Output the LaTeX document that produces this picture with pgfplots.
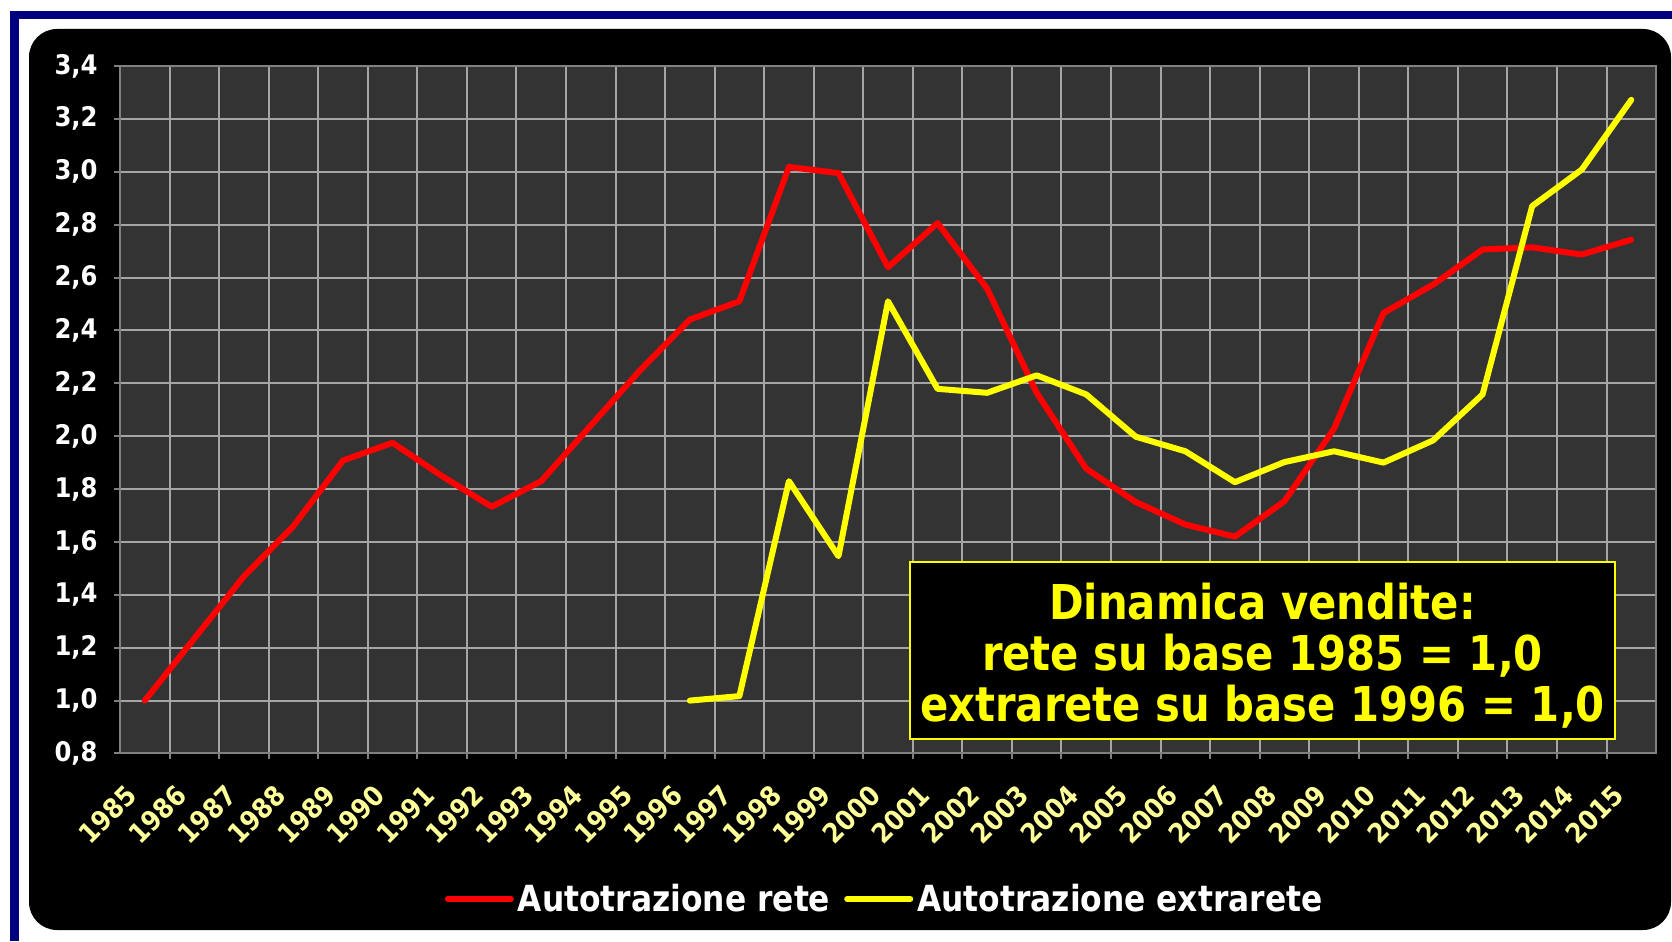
\documentclass[border=0pt]{standalone}
\usepackage{fontspec}
\usepackage{pgfplots}
\pgfplotsset{compat=1.18}
\setmainfont{DejaVu Sans}
\newfontfamily\tickfont{DejaVu Sans}[FakeStretch=0.9]
\newfontfamily\boxfont{DejaVu Sans}[FakeStretch=0.87]
\definecolor{navyb}{RGB}{0,0,128}
\definecolor{plotbg}{RGB}{51,51,51}
\definecolor{gridc}{RGB}{165,165,165}
\definecolor{axisc}{RGB}{128,128,128}
\definecolor{lblyel}{RGB}{255,255,153}
\definecolor{redl}{RGB}{255,0,0}
\definecolor{yell}{RGB}{255,255,0}
\begin{document}
\begin{tikzpicture}
\begin{scope}[x=0.5bp,y=0.5bp]
\fill[white] (0,0) rectangle (1672,941);
\path[use as bounding box] (0,0) rectangle (1672,941);
\fill[navyb] (10,922) rectangle (1672,930);
\fill[navyb] (10,0) rectangle (19,930);
\fill[black, rounded corners=14bp] (29,11) rectangle (1671,912);
\end{scope}
\begin{axis}[
  at={(60bp,93.75bp)}, anchor=south west,
  scale only axis, width=768bp, height=343.75bp,
  xmin=-0.5, xmax=30.5, ymin=0.8, ymax=3.4,
  axis background/.style={fill=plotbg},
  axis line style={axisc, line width=1bp},
  tick align=outside,
  xtick pos=lower, ytick pos=left,
  xtick={0,...,30},
  xticklabels={1985,1986,1987,1988,1989,1990,1991,1992,1993,1994,1995,1996,1997,1998,1999,2000,2001,2002,2003,2004,2005,2006,2007,2008,2009,2010,2011,2012,2013,2014,2015},
  minor xtick={0.5,1.5,...,29.5},
  xminorgrids=true, xmajorgrids=false, ymajorgrids=true,
  minor x grid style={gridc, line width=1bp},
  major y grid style={gridc, line width=1bp},
  major x tick style={draw=none},
  minor x tick style={axisc, line width=1bp},
  major y tick style={axisc, line width=1bp},
  major tick length=3bp, minor tick length=3bp,
  ytick={0.8,1.0,1.2,1.4,1.6,1.8,2.0,2.2,2.4,2.6,2.8,3.0,3.2,3.4},
  /pgf/number format/fixed, /pgf/number format/fixed zerofill,
  /pgf/number format/precision=1, /pgf/number format/use comma,
  /pgf/number format/assume math mode=true,
  yticklabel style={font=\tickfont\bfseries\fontsize{13.5bp}{15bp}\selectfont, text=white, anchor=east, inner sep=0pt, xshift=-8bp},
  xticklabel style={font=\tickfont\bfseries\fontsize{13.6bp}{15bp}\selectfont, text=lblyel, inner sep=0pt, xshift=-6.25bp, yshift=-15.25bp, rotate=45, anchor=east},
  legend style={at={(0.4985,-0.2116)}, anchor=center, draw=none, fill=none, text=white,
    font=\boxfont\bfseries\fontsize{18bp}{20bp}\selectfont, legend columns=-1,
    /tikz/every even column/.append style={column sep=5bp}},
  legend image code/.code={\draw[#1] (0bp,0bp) -- (31.5bp,0bp);},
]
\addplot[redl, line width=3bp, line join=round, line cap=round] coordinates {
(0,1.00) (1,1.235) (2,1.47) (3,1.66) (4,1.908) (5,1.975) (6,1.849) (7,1.733) (8,1.83) (9,2.04)
(10,2.25) (11,2.441) (12,2.51) (13,3.018) (14,2.995) (15,2.639) (16,2.806) (17,2.558) (18,2.164) (19,1.877)
(20,1.751) (21,1.666) (22,1.62) (23,1.754) (24,2.028) (25,2.466) (26,2.573) (27,2.706) (28,2.714) (29,2.687) (30,2.743)};
\addlegendentry{Autotrazione rete}
\addplot[yell, line width=3bp, line join=round, line cap=round] coordinates {
(11,1.00) (12,1.017) (13,1.83) (14,1.546) (15,2.51) (16,2.179) (17,2.164) (18,2.23) (19,2.158)
(20,1.998) (21,1.943) (22,1.826) (23,1.902) (24,1.943) (25,1.90) (26,1.984) (27,2.158) (28,2.87) (29,3.008) (30,3.272)};
\addlegendentry{Autotrazione extrarete}
\node[fill=black, draw=yell, line width=1bp, minimum width=352.5bp, minimum height=88.5bp, inner sep=0pt]
  at (rel axis cs:0.7438,0.1498) {};
\node[align=center, text=yell, font=\boxfont\bfseries\fontsize{24bp}{25.5bp}\selectfont, inner sep=0pt, yshift=-2.7bp]
  at (rel axis cs:0.7438,0.1498) {Dinamica vendite:\\rete su base 1985 = 1,0\\extrarete su base 1996 = 1,0};
\end{axis}
\end{tikzpicture}
\end{document}
